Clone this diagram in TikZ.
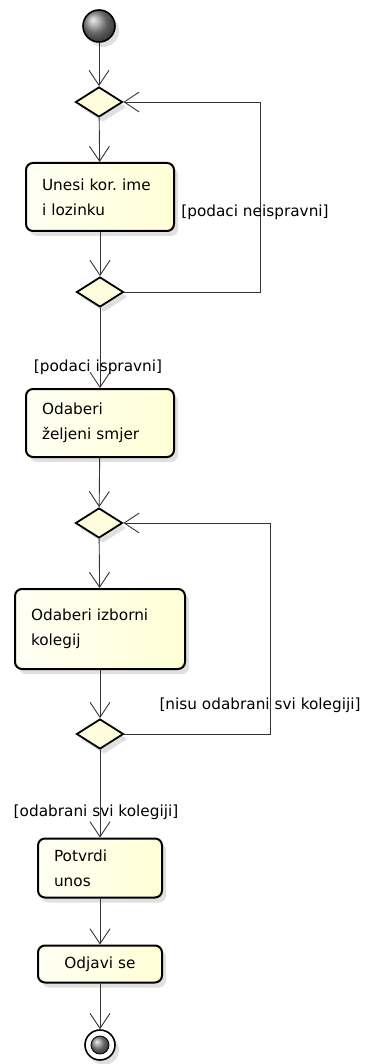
\documentclass[tikz,border=0pt]{standalone}
\usepackage{fontspec}
\setmainfont{DejaVu Sans}
\usetikzlibrary{shapes.geometric,shadows,arrows.meta}
\frenchspacing

\begin{document}
\begin{tikzpicture}[x=1pt,y=-1pt,
    font=\fontsize{15.3}{25}\selectfont,
    flow/.style={draw=black!80,line width=0.9pt,
        -{Straight Barb[length=15pt,width=20pt,line width=0.9pt]}},
    activity/.style={shape=rectangle,rounded corners=7pt,draw=black,line width=2pt,
        left color=yellow!4,right color=yellow!16,
        drop shadow={shadow xshift=4pt,shadow yshift=-5pt,fill=black!35,opacity=0.35},
        inner xsep=16pt,inner ysep=0pt,align=left},
    decision/.style={shape=diamond,draw=black,line width=1.8pt,fill=yellow!13,
        minimum width=47pt,minimum height=30pt,inner sep=0pt,
        drop shadow={shadow xshift=4pt,shadow yshift=-5pt,fill=black!35,opacity=0.35}},
    guard/.style={inner sep=0pt}]
    \useasboundingbox (0,0) rectangle (364,1064);

    %%%%% START AND END
    \node (START) at (99,26) [circle,minimum size=32pt,inner sep=0pt,draw=black,
        line width=1.6pt,ball color=black!45,
        drop shadow={shadow xshift=4pt,shadow yshift=-5pt,fill=black!35,opacity=0.35}] {};
    \node (END) at (100,1045) [circle,minimum size=30pt,inner sep=0pt,draw=black,
        line width=1.6pt,fill=white,
        drop shadow={shadow xshift=4pt,shadow yshift=-5pt,fill=black!35,opacity=0.35}] {};
    \node (ENDDOT) at (END) [circle,minimum size=18pt,inner sep=0pt,draw=black,
        line width=0.8pt,ball color=black!45] {};

    %%%%% ACTIVITIES
    \node[activity,text width=116pt,minimum height=68pt] (UNESI) at (100,197)
        {Unesi kor. ime\\i lozinku};
    \node[activity,text width=116pt,minimum height=68pt] (SMJER) at (100,423)
        {Odaberi\\željeni smjer};
    \node[activity,text width=138pt,minimum height=80pt] (KOLEGIJ) at (100,629)
        {Odaberi izborni\\kolegij};
    \node[activity,text width=92pt,minimum height=59pt] (POTVRDI) at (100,868)
        {Potvrdi\\unos};
    \node[activity,text width=92pt,minimum height=37pt,align=center] (ODJAVI) at (100,964)
        {Odjavi se};

    %%%%% DECISIONS
    \node[decision] (D1) at (99,102) {};
    \node[decision] (D2) at (100,292) {};
    \node[decision] (D3) at (99,523) {};
    \node[decision] (D4) at (100,734) {};

    %%%%% FLOW
    \draw[flow] (START) -- (D1);
    \draw[flow] (D1) -- (UNESI);
    \draw[flow] (UNESI) -- (D2);
    \draw[flow] (D2) -- (SMJER);
    \draw[flow] (SMJER) -- (D3);
    \draw[flow] (D3) -- (KOLEGIJ);
    \draw[flow] (KOLEGIJ) -- (D4);
    \draw[flow] (D4) -- (POTVRDI);
    \draw[flow] (POTVRDI) -- (ODJAVI);
    \draw[flow] (ODJAVI) -- (END);
    % loops back to the decisions
    \coordinate (LOOP1) at (260,200);
    \coordinate (LOOP2) at (270,630);
    \draw[flow] (D2.east) -- (D2.east -| LOOP1) -- (D1.east -| LOOP1) -- (D1.east);
    \draw[flow] (D4.east) -- (D4.east -| LOOP2) -- (D3.east -| LOOP2) -- (D3.east);

    %%%%% GUARDS
    \node[guard] (NEISPRAVNI) at (255,212) {[podaci neispravni]};
    \node[guard] (ISPRAVNI) at (98,367) {[podaci ispravni]};
    \node[guard] (NISU) at (260,705) {[nisu odabrani svi kolegiji]};
    \node[guard] (ODABRANI) at (96,812) {[odabrani svi kolegiji]};
\end{tikzpicture}
\end{document}
